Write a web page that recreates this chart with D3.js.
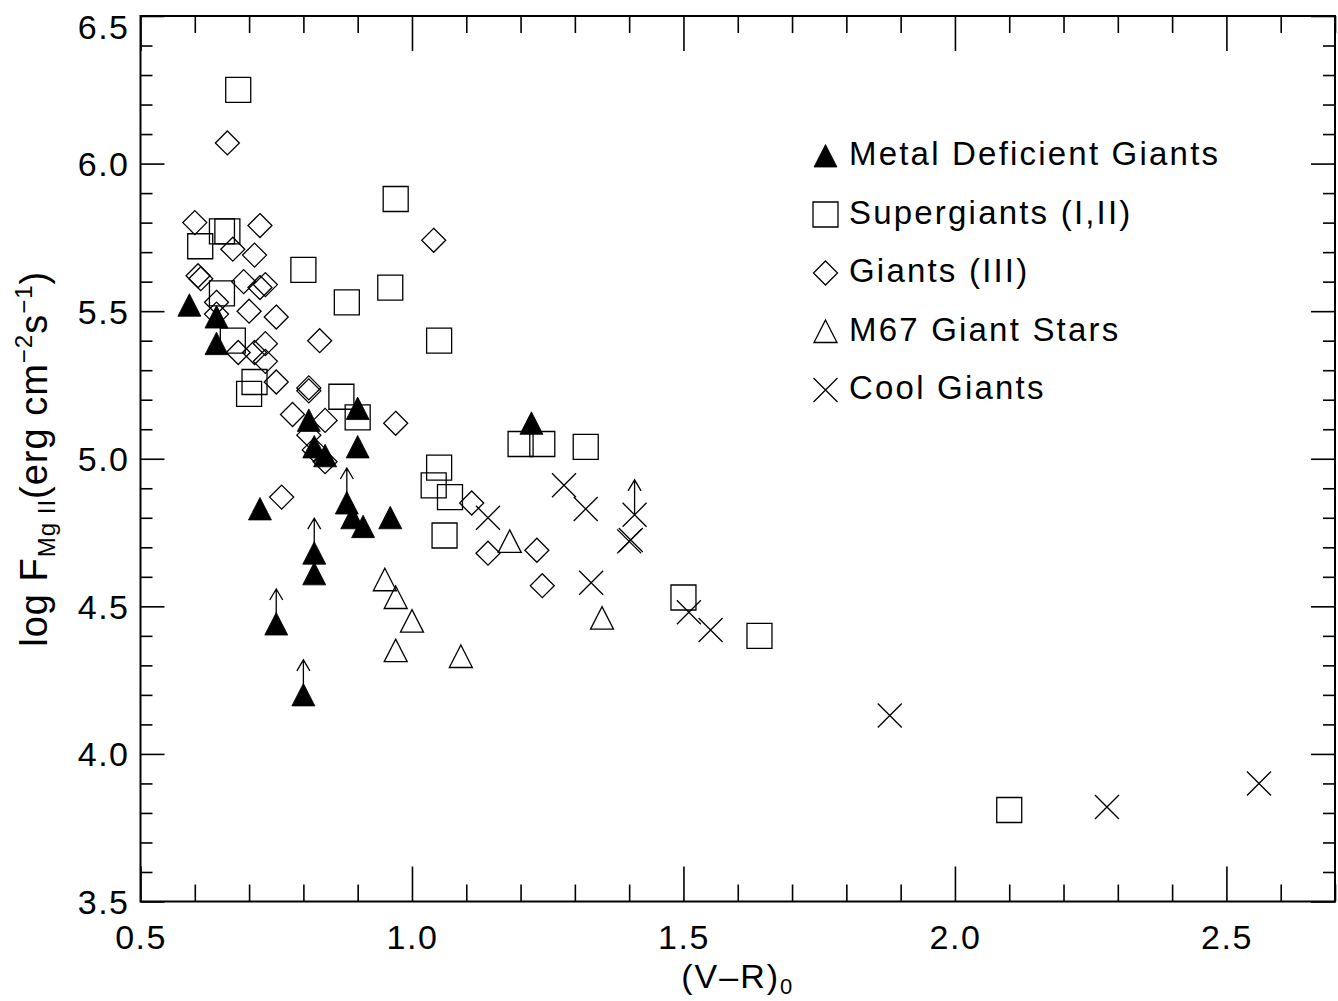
<!DOCTYPE html>
<html>
<head>
<meta charset="utf-8">
<script src="https://cdn.jsdelivr.net/npm/d3@7"></script>
<style>
  html, body { margin: 0; padding: 0; background: #fff; }
  svg { display: block; }
  text { font-family: "Liberation Sans", Arial, Helvetica, sans-serif; fill: #000; }
</style>
</head>
<body>
<svg id="chart" width="1338" height="1001"></svg>
<script>
// ---- Data ----
const metalDeficient = [[0.59,5.52],[0.64,5.48],[0.64,5.39],[1.22,5.12],[0.90,5.17],[0.81,5.13],[0.82,5.04],[0.84,5.01],[0.90,5.04],[0.72,4.83],[0.88,4.85],[0.89,4.80],[0.91,4.77],[0.96,4.80],[0.82,4.68],[0.82,4.61],[0.75,4.44],[0.80,4.20]];
const metalDeficientUpper = [[0.88,4.85],[0.82,4.68],[0.75,4.44],[0.80,4.20]];
const supergiants = [[0.68,6.25],[0.97,5.88],[0.65,5.77],[0.66,5.77],[0.61,5.72],[0.80,5.64],[0.96,5.58],[0.88,5.53],[0.65,5.56],[1.05,5.40],[0.67,5.40],[0.71,5.26],[0.70,5.22],[0.87,5.21],[0.90,5.14],[1.20,5.05],[1.24,5.05],[1.32,5.04],[1.05,4.97],[1.04,4.91],[1.07,4.87],[1.06,4.74],[1.50,4.53],[1.64,4.40],[2.10,3.81]];
const giants = [[0.66,6.07],[0.60,5.80],[0.72,5.79],[0.67,5.71],[0.71,5.69],[1.04,5.74],[0.606,5.62],[0.611,5.61],[0.69,5.60],[0.73,5.59],[0.72,5.58],[0.64,5.53],[0.64,5.49],[0.70,5.50],[0.75,5.48],[0.68,5.36],[0.71,5.36],[0.73,5.39],[0.73,5.33],[0.83,5.40],[0.75,5.26],[0.81,5.24],[0.81,5.23],[0.78,5.15],[0.84,5.13],[0.97,5.12],[0.81,5.08],[0.82,5.03],[0.84,4.99],[0.76,4.87],[1.11,4.85],[1.14,4.68],[1.23,4.69],[1.24,4.57]];
const m67 = [[0.95,4.59],[0.97,4.53],[1.00,4.45],[0.97,4.35],[1.09,4.33],[1.18,4.72],[1.35,4.46]];
const coolGiants = [[1.28,4.91],[1.32,4.83],[1.41,4.81],[1.40,4.72],[1.403,4.725],[1.14,4.80],[1.33,4.58],[1.51,4.48],[1.55,4.42],[1.88,4.13],[2.28,3.82],[2.56,3.90]];
const coolGiantsUpper = [[1.41,4.81]];

const xMajorTicks = [0.5, 1.0, 1.5, 2.0, 2.5];
const yMajorTicks = [3.5, 4.0, 4.5, 5.0, 5.5, 6.0, 6.5];
const legendLabels = ["Metal Deficient Giants", "Supergiants (I,II)", "Giants (III)", "M67 Giant Stars", "Cool Giants"];
const legendSymbols = ["triFilled", "square", "diamond", "triOpen", "cross"];

// ---- Layout ----
const L = 140.5, R = 1335, T = 16, B = 901.5;
const svg = d3.select("#chart");
const x = d3.scaleLinear().domain([0.5, 2.7]).range([L, R]);
const y = d3.scaleLinear().domain([3.5, 6.5]).range([B, T]);

const xMinor = d3.range(5, 28).map(d => d / 10).filter(v => !xMajorTicks.some(m => Math.abs(m - v) < 1e-6));
const yMinor = d3.range(35, 66).map(d => d / 10).filter(v => !yMajorTicks.some(m => Math.abs(m - v) < 1e-6));

function styleAxis(g) {
  g.select(".domain").remove();
  g.selectAll(".tick line").attr("stroke", "#000").attr("stroke-width", 1.6);
}
const fmt = d3.format(".1f");

// bottom axis
svg.append("g").attr("transform", `translate(0,${B})`)
  .call(d3.axisBottom(x).tickValues(xMajorTicks).tickSize(-35).tickFormat(fmt))
  .call(styleAxis)
  .call(g => g.selectAll("text").attr("y", 0).attr("dy", 0).attr("transform", "translate(0,47)")
     .attr("font-size", 34).attr("letter-spacing", 1.5).attr("font-family", "Liberation Sans, Arial, sans-serif"));
svg.append("g").attr("transform", `translate(0,${B})`)
  .call(d3.axisBottom(x).tickValues(xMinor).tickSize(-17).tickFormat(""))
  .call(styleAxis);
// top axis
svg.append("g").attr("transform", `translate(0,${T})`)
  .call(d3.axisTop(x).tickValues(xMajorTicks).tickSize(-35).tickFormat(""))
  .call(styleAxis);
svg.append("g").attr("transform", `translate(0,${T})`)
  .call(d3.axisTop(x).tickValues(xMinor).tickSize(-17).tickFormat(""))
  .call(styleAxis);
// left axis
svg.append("g").attr("transform", `translate(${L},0)`)
  .call(d3.axisLeft(y).tickValues(yMajorTicks).tickSize(-24).tickFormat(fmt))
  .call(styleAxis)
  .call(g => g.selectAll("text").attr("x", -11).attr("dy", "0.35em")
     .attr("font-size", 34).attr("letter-spacing", 1.5).attr("font-family", "Liberation Sans, Arial, sans-serif")
     .attr("transform", d => d === 6.5 ? "translate(0,11)" : null));
svg.append("g").attr("transform", `translate(${L},0)`)
  .call(d3.axisLeft(y).tickValues(yMinor).tickSize(-12).tickFormat(""))
  .call(styleAxis);
// right axis
svg.append("g").attr("transform", `translate(${R},0)`)
  .call(d3.axisRight(y).tickValues(yMajorTicks).tickSize(-24).tickFormat(""))
  .call(styleAxis);
svg.append("g").attr("transform", `translate(${R},0)`)
  .call(d3.axisRight(y).tickValues(yMinor).tickSize(-12).tickFormat(""))
  .call(styleAxis);

// frame
svg.append("rect").attr("x", L).attr("y", T).attr("width", R - L).attr("height", B - T)
  .attr("fill", "none").attr("stroke", "#000").attr("stroke-width", 2);

// axis titles
const xt = svg.append("text").attr("x", (L + R) / 2).attr("y", 988).attr("text-anchor", "middle")
  .attr("font-size", 34).attr("letter-spacing", 2);
xt.append("tspan").text("(V\u2013R)");
xt.append("tspan").attr("font-size", 22).attr("dy", 6).text("0");

const yt = svg.append("text").attr("transform", `translate(47,${(T + B) / 2}) rotate(-90)`)
  .attr("text-anchor", "middle").attr("font-size", 38).attr("letter-spacing", 1);
yt.append("tspan").text("log F");
yt.append("tspan").attr("font-size", 24).attr("dy", 8).text("Mg II");
yt.append("tspan").attr("dy", -8).text("(erg cm");
yt.append("tspan").attr("font-size", 24).attr("dy", -15).text("\u22122");
yt.append("tspan").attr("dy", 15).text("s");
yt.append("tspan").attr("font-size", 24).attr("dy", -15).text("\u22121");
yt.append("tspan").attr("dy", 15).text(")");

// ---- symbols ----
const plot = svg.append("g");
function symbolPath(type) {
  switch (type) {
    case "square": return "M-12.5,-12.5H12.5V12.5H-12.5Z";
    case "diamond": return "M0,-12L12,0L0,12L-12,0Z";
    case "triFilled":
    case "triOpen": return "M0,-11.5L11.5,11L-11.5,11Z";
    case "cross": return "M-12,-12L12,12M12,-12L-12,12";
  }
}
function drawSymbols(data, type) {
  plot.append("g").selectAll("path").data(data).join("path")
    .attr("transform", d => `translate(${x(d[0])},${y(d[1])})`)
    .attr("d", symbolPath(type))
    .attr("fill", type === "triFilled" ? "#000" : "none")
    .attr("stroke", "#000")
    .attr("stroke-width", type === "triFilled" ? 0.8 : 1.3)
    .attr("stroke-linejoin", "miter");
}
function drawArrows(data) {
  plot.append("g").selectAll("path").data(data).join("path")
    .attr("transform", d => `translate(${x(d[0])},${y(d[1])})`)
    .attr("d", "M0,0V-35M-6.5,-24L0,-35L6.5,-24")
    .attr("fill", "none").attr("stroke", "#000").attr("stroke-width", 1.3);
}

drawSymbols(supergiants, "square");
drawSymbols(giants, "diamond");
drawSymbols(m67, "triOpen");
drawSymbols(coolGiants, "cross");
drawArrows(coolGiantsUpper);
drawArrows(metalDeficientUpper);
drawSymbols(metalDeficient, "triFilled");

// ---- legend ----
const legend = svg.append("g");
const legendBase = 165, legendStep = 58.5;
legendLabels.forEach((lab, i) => {
  const by = legendBase + i * legendStep;
  const t = legendSymbols[i];
  legend.append("path")
    .attr("transform", `translate(825.5,${by - 9})`)
    .attr("d", symbolPath(t))
    .attr("fill", t === "triFilled" ? "#000" : "none")
    .attr("stroke", "#000").attr("stroke-width", t === "triFilled" ? 0.8 : 1.3);
  legend.append("text").attr("x", 849).attr("y", by)
    .attr("font-size", 33).attr("letter-spacing", 2.2).text(lab);
});
</script>
</body>
</html>
